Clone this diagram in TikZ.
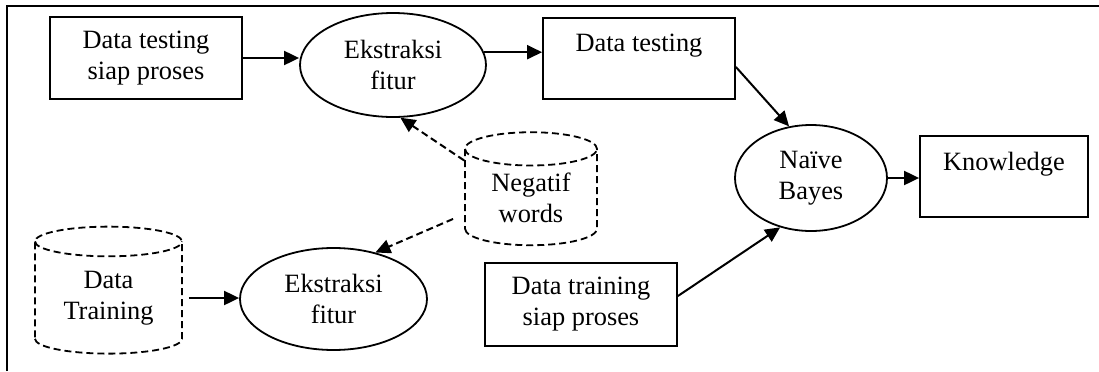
\documentclass[tikz,border=0pt]{standalone}
\usepackage{fontspec}
\setmainfont{Liberation Serif}
\usetikzlibrary{shapes.geometric,arrows.meta}

\begin{document}
\begin{tikzpicture}[x=0.5pt,y=0.5pt,
    txt/.style={font={\fontsize{13.2}{15.5}\selectfont},align=center,inner sep=0pt},
    putus/.style={dash pattern=on 3.5pt off 2pt},
    proses/.style={txt,draw,line width=0.9pt,rectangle},
    olah/.style={txt,draw,line width=0.9pt,ellipse},
    basis/.style={txt,draw,line width=0.9pt,putus,cylinder,shape border rotate=90},
    panah/.style={line width=1pt,-{Triangle[length=7.5pt,width=7pt]}}]
\useasboundingbox (0,0) rectangle (1099,371);
\draw[line width=1pt] (7,0)--(7,365)--(1099,365);

\node[proses,minimum width=96pt,minimum height=41pt] (tsiap) at (146,313) {Data testing\\siap proses};
\node[olah,minimum width=93pt,minimum height=52pt] (ekstr1) at (393,306) {Ekstraksi\\fitur};
\node[proses,minimum width=96pt,minimum height=40.5pt] (ttest) at (639,312.5) {Data testing\\~};
\node[olah,minimum width=76pt,minimum height=53pt] (nb) at (811,193) {Naïve\\Bayes};
\node[proses,minimum width=84pt,minimum height=40.5pt] (know) at (1004,194.5) {Knowledge\\~};
\node[basis,minimum width=66pt,minimum height=56.5pt,aspect=0.42] (negw) at (531,173.5) {Negatif\\words};
\node[basis,minimum width=73.5pt,minimum height=63.5pt,aspect=0.33] (dtrain) at (108.5,73) {Data\\Training};
\node[olah,minimum width=93.5pt,minimum height=51pt] (ekstr2) at (333.5,72) {Ekstraksi\\fitur};
\node[proses,minimum width=96pt,minimum height=41.5pt] (trsiap) at (581,66.5) {Data training\\siap proses};

\draw[panah] (tsiap.east)--(tsiap.east -| ekstr1.west);
\draw[panah] (ekstr1.8)--(ekstr1.8 -| ttest.west);
\draw[panah] (ttest.-5)--(nb.113);
\draw[panah] (trsiap.5)--(nb.238);
\draw[panah] (nb.east)--(nb.east -| know.west);
\draw[panah,putus] (negw.151)--(ekstr1.-82);
\draw[panah,putus,shorten <=6pt] (negw.194)--(ekstr2.48);
\draw[panah,shorten <=3pt] (dtrain.0)--(dtrain.0 -| ekstr2.west);
\end{tikzpicture}
\end{document}
